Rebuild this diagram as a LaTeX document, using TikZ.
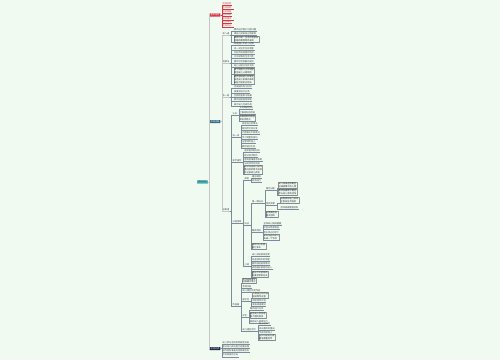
\documentclass[tikz,border=0pt]{standalone}
\usepackage{fontspec}
\newfontfamily\cjk{Noto Sans CJK SC}
\definecolor{bgc}{RGB}{240,250,241}
\definecolor{redc}{RGB}{214,55,70}
\definecolor{tealc}{RGB}{62,178,178}
\definecolor{bluec}{RGB}{48,104,128}
\definecolor{navyc}{RGB}{24,38,68}
\definecolor{linec}{RGB}{120,140,155}
\definecolor{txtc}{RGB}{60,60,60}
\tikzset{
  every node/.style={font=\cjk\fontsize{2.2}{2.8}\selectfont, inner sep=0.4pt, anchor=west, text=txtc},
  box/.style={fill=#1, text=white, inner xsep=0.9pt, inner ysep=0.5pt, rounded corners=0.3pt},
  dk/.style={draw=gray!80, line width=0.2pt, align=left, inner sep=0.5pt, text=black!85},
  trunk/.style={draw=gray!45, line width=0.9pt},
  lnk/.style={draw=linec, line width=0.3pt},
  tobox/.style={to path={(\tikztostart.east) -- ++(1.2,0) |- (\tikztotarget.west)}},
  toleaf/.style={to path={(\tikztostart.east) -- ++(1.5,0) |- (\tikztotarget.south west) -- (\tikztotarget.south east)}},
  tosub/.style={to path={(\tikztostart.south east) -- ++(1.5,0) |- (\tikztotarget.south west) -- (\tikztotarget.south east)}},
}
\begin{document}
\begin{tikzpicture}[x=1pt,y=-1pt]
\fill[bgc] (0,0) rectangle (500,360);
\useasboundingbox (0,0) rectangle (500,360);

% main branches
\node[box=tealc,text=black!75] (root) at (197,182) {活动设计};
\node[box=redc] (ba) at (209.5,15) {基本信息};
\node[box=bluec] (bb) at (209.5,121.6) {活动内容};
\node[box=navyc] (bc) at (209.5,348.6) {活动反思};
\foreach \c in {ba,bb,bc} \draw[trunk] (root) to[tobox] (\c);

% red branch
\node[text=redc] (a1) at (222,4) {活动名称};
\node[text=redc] (a2) at (222,7.6) {活动目标：};
\node[text=redc] (a3) at (222,11.2) {活动准备};
\node[text=redc] (a4) at (222,14.8) {适用年龄};
\node[text=redc] (a5) at (222,18.4) {活动重点：};
\node[text=redc] (a6) at (222,22) {活动难点};
\node[text=redc] (a7) at (222,25.6) {活动时长：};
\foreach \c in {a1,a2,a3,a4,a5,a6,a7} \draw[draw=redc,line width=0.3pt] (ba) to[toleaf] (\c);

% second branch
\node (b1) at (222,34) {导入语};
\node (b2) at (222,61.8) {观察法};
\node (b3) at (222,95.6) {练一练};
\node (d) at (222,209.3) {结束语};
\foreach \c in {b1,b2,b3,d} \draw[trunk,line width=0.6pt] (bb) to[toleaf] (\c);

\node (b11) at (233.5,29.5) {教师出示图片引起兴趣};
\node (b12) at (233.5,33.7) {请幼儿说说自己的发现};
\node[dk] (b13) at (233.5,39.2) {教师小结：生活中有很多\\有趣的事情等待发现};
\foreach \c in {b11,b12,b13} \draw[lnk] (b1) to[tosub] (\c);

\node (b21) at (233.5,44) {观察图片中的小动物};
\node (b22) at (233.5,48.3) {说一说它们住在哪里};
\node (b23) at (233.5,52.6) {比较不同动物的特点};
\node (b24) at (233.5,56.9) {讨论动物的生活习性};
\node (b25) at (233.5,61.2) {教师示范讲解并提问};
\node (b26) at (233.5,65.5) {幼儿分组讨论并交流};
\node[dk] (b27) at (233.5,71.3) {请个别幼儿上台讲述\\其他幼儿认真倾听};
\node[dk] (b28) at (233.5,79.5) {教师总结幼儿的发言\\肯定幼儿积极的表现\\鼓励大胆表达想法};
\foreach \c in {b21,b22,b23,b24,b25,b26,b27,b28} \draw[lnk] (b2) to[tosub] (\c);

\node (b31) at (233.5,87) {完成操作练习材料};
\node (b32) at (233.5,91.3) {按要求进行分类};
\node (b33) at (233.5,95.6) {互相检查练习结果};
\node (b34) at (233.5,99.9) {教师巡回指导帮助};
\node (b35) at (233.5,104.2) {展示幼儿完成作品};
\foreach \c in {b31,b32,b33,b34,b35} \draw[lnk] (b3) to[tosub] (\c);

% last part of second branch
\node (d1) at (232,113.5) {认识};
\node (d2) at (232,135.3) {说一说};
\node (d3) at (232,160.3) {动手操作};
\node (d4) at (232,221.6) {分组游戏};
\node (d5) at (232,305) {作品展};
\foreach \c in {d1,d2,d3,d4,d5} \draw[lnk] (d) to[tosub] (\c);

\node (d11) at (239,108) {认识新的材料};
\node (d12) at (239,112.4) {了解材料的用途};
\node[dk] (d13) at (239,118.3) {观察材料的颜色\\和形状特点};
\foreach \c in {d11,d12,d13} \draw[lnk] (d1) to[tosub] (\c);

\node (d21) at (241.5,124) {说说自己的想法};
\node (d22) at (241.5,128.5) {和同伴交流分享};
\node (d23) at (241.5,133) {大胆表达不同意见};
\node (d24) at (241.5,137.5) {学习完整的语句};
\node (d25) at (241.5,142) {注意倾听他人};
\node (d26) at (241.5,146.5) {教师适时引导};
\foreach \c in {d21,d22,d23,d24,d25,d26} \draw[lnk] (d2) to[tosub] (\c);

\node (d31) at (243.8,151) {选择喜欢的材料};
\node (d32) at (243.8,155.2) {尝试动手制作};
\node (d33) at (243.8,159.4) {遇到困难请求帮助};
\node (d34) at (243.8,163.6) {与同伴合作完成};
\node[dk] (d35) at (243.8,169.6) {教师观察幼儿操作\\情况及时给予指导\\并记录幼儿表现};
\foreach \c in {d31,d32,d33,d34,d35} \draw[lnk] (d3) to[tosub] (\c);

\node (d4a) at (244,178.7) {规则};
\node (d4b) at (244,224) {玩法};
\node (d4c) at (244,264.5) {小结};
\foreach \c in {d4a,d4b,d4c} \draw[lnk] (d4) to[tosub] (\c);

\node (r1) at (251.5,176.6) {遵守规则};
\node (r2) at (251.5,180.8) {轮流进行};
\foreach \c in {r1,r2} \draw[lnk] (d4a) to[tosub] (\c);

\node (w1) at (251.5,201.5) {第一种玩法};
\node (w2) at (251.5,230.5) {集体游戏};
\node[dk] (w3) at (251.5,246.5) {游戏可以反复\\进行多次};
\foreach \c in {w1,w2,w3} \draw[lnk] (d4b) to[tosub] (\c);

\node (e1) at (265.5,189) {角色分配};
\node (e2) at (265.5,204) {游戏步骤};
\node[dk] (e3) at (265.5,214) {交换角色后\\再次游戏};
\foreach \c in {e1,e2,e3} \draw[lnk] (w1) to[tosub] (\c);

\node[dk] (e11) at (278,185.5) {幼儿自由选择角色\\扮演故事中的人物};
\node[dk] (e12) at (278,192.5) {教师扮演其中角色\\参与幼儿游戏活动};
\foreach \c in {e11,e12} \draw[lnk] (e1) to[tosub] (\c);

\node[dk] (e21) at (280,200.5) {按照顺序进行游戏\\注意安全不推挤};
\node (e22) at (280,207.4) {游戏结束整理材料};
\foreach \c in {e21,e22} \draw[lnk] (e2) to[tosub] (\c);

\node (w21) at (263,223.8) {全体幼儿围成圆圈};
\node (w22) at (263,228) {听音乐传递物品};
\node (w23) at (263,232.2) {音乐停止时停下};
\node[dk] (w24) at (263,237.3) {拿到物品的幼儿\\表演一个节目};
\foreach \c in {w21,w22,w23,w24} \draw[lnk] (w2) to[tosub] (\c);

\node (s1) at (251.5,255) {幼儿说说游戏感受};
\node (s2) at (251.5,259.3) {评选游戏中的明星};
\node (s3) at (251.5,263.6) {教师总结游戏情况};
\node (s4) at (251.5,267.9) {表扬遵守规则的幼儿};
\node[dk] (s5) at (251.5,274.5) {提出下次游戏的\\新要求和新玩法};
\foreach \c in {s1,s2,s3,s4,s5} \draw[lnk] (d4c) to[tosub] (\c);

\node[dk] (f1) at (242,280.6) {将作品布置在\\班级展示墙上};
\node (f2) at (242,286.3) {参观作品};
\node (f3) at (242,290.5) {幼儿相互欣赏作品};
\node (f4) at (242,299.7) {展示区};
\node (f5) at (242,315.3) {评价};
\node (f6) at (242,329.5) {幼儿相互评价};
\foreach \c in {f1,f2,f3,f4,f5,f6} \draw[lnk] (d5) to[tosub] (\c);

\node[dk] (f41) at (252,294.8) {介绍自己的作品\\说说制作过程};
\node (f42) at (252,300.5) {倾听同伴介绍};
\node (f43) at (252,304.7) {提出改进建议};
\foreach \c in {f41,f42,f43} \draw[lnk] (f4) to[tosub] (\c);

\node (f51) at (249.5,309) {教师进行点评};
\node[dk] (f52) at (249.5,315.3) {肯定幼儿的创意\\和大胆的尝试};
\node (f53) at (249.5,321.6) {鼓励幼儿继续努力};
\foreach \c in {f51,f52,f53} \draw[lnk] (f5) to[tosub] (\c);

\node (f61) at (258.5,324) {贴上小红花};
\node (f62) at (258.5,328.2) {说出喜欢的理由};
\node (f63) at (258.5,332.4) {学会欣赏他人};
\node[dk] (f64) at (258.5,337.4) {评价时使用礼貌\\用语尊重同伴};
\foreach \c in {f61,f62,f63,f64} \draw[lnk] (f6) to[tosub] (\c);

% third branch
\node (c1) at (222,342.2) {幼儿参与活动的积极性较高};
\node (c2) at (222,346.5) {部分幼儿表达能力还需加强};
\node (c3) at (222,350.8) {操作材料准备充足效果良好};
\node (c4) at (222,355.1) {今后改进的方向};
\foreach \c in {c1,c2,c3,c4} \draw[lnk] (bc) to[toleaf] (\c);
\end{tikzpicture}
\end{document}
